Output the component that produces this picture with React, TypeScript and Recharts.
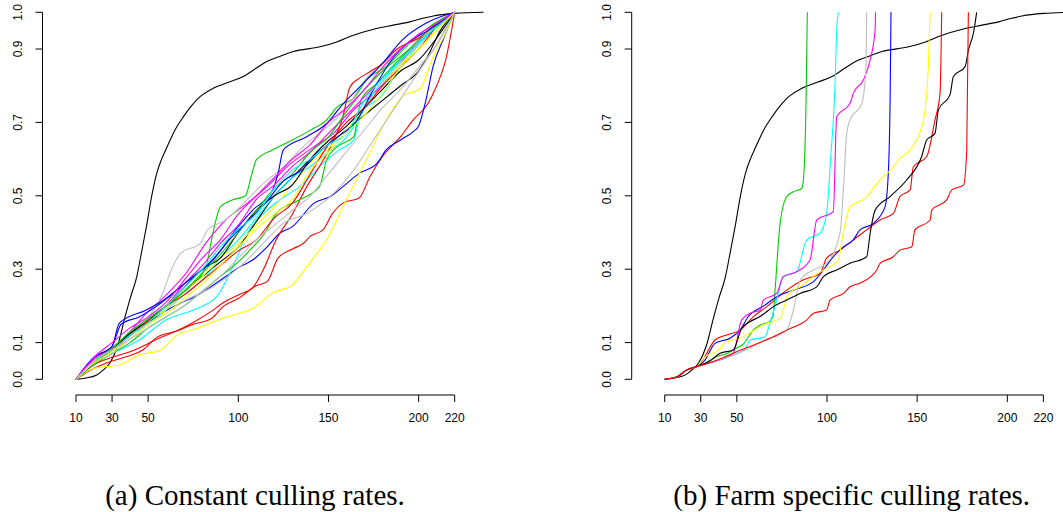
import { LineChart, Line, XAxis, YAxis, ReferenceLine } from "recharts"

type Pt = [number, number]

// R default palette
const RED = "#FF0000"
const GREEN = "#00CD00"
const BLUE = "#0000FF"
const CYAN = "#00FFFF"
const MAGENTA = "#FF00FF"
const YELLOW = "#FFFF00"
const GRAY = "#BEBEBE"
const BLACK = "#000000"

const xTicks = [10, 30, 50, 100, 150, 200, 220]
const yTicks = [0, 0.1, 0.3, 0.5, 0.7, 0.9, 1.0]

// reference curve, same in both panels
const reference: Pt[] = [
  [10, 0], [15, 0.003], [21.5, 0.012], [25, 0.025], [28.9, 0.045], [33, 0.09], [37.2, 0.17], [40, 0.22],
  [43.7, 0.28], [46.5, 0.35], [49.2, 0.42], [52, 0.5], [54.7, 0.56], [57.5, 0.6], [60.2, 0.63], [65, 0.68],
  [69.5, 0.715], [74, 0.745], [78.8, 0.77], [86.1, 0.793], [95, 0.81], [102.8, 0.825], [110, 0.848],
  [115.8, 0.866], [122, 0.878], [130.5, 0.893], [145.3, 0.906], [155, 0.92], [161.9, 0.934], [176.7, 0.956],
  [186, 0.965], [195.2, 0.974], [202, 0.983], [208.1, 0.99], [220, 0.997], [236, 1.0],
]

// (a) constant culling rates
const constRed1: Pt[] = [[10, 0], [20, 0.03], [30, 0.05], [40, 0.065], [47, 0.08], [55, 0.115], [65, 0.13], [75, 0.15], [85, 0.165], [92, 0.2], [100, 0.22], [110, 0.255], [116, 0.266], [122, 0.33], [130, 0.355], [136, 0.37], [140, 0.39], [147, 0.407], [152, 0.45], [158, 0.48], [167, 0.494], [173, 0.552], [180, 0.607], [190, 0.661], [197, 0.707], [205, 0.75], [210, 0.8], [215, 0.87], [220, 1]]
const constRed2: Pt[] = [[10, 0], [20, 0.04], [30, 0.06], [40, 0.075], [47, 0.09], [55, 0.11], [65, 0.13], [75, 0.155], [85, 0.185], [92, 0.21], [100, 0.23], [108, 0.25], [114, 0.3], [121, 0.38], [130, 0.45], [138, 0.525], [145, 0.58], [152, 0.642], [158, 0.716], [162, 0.797], [167, 0.82], [173, 0.838], [180, 0.861], [188, 0.9], [194, 0.916], [200, 0.93], [208, 0.96], [215, 0.985], [220, 1]]
const constRed3: Pt[] = [[10, 0], [20, 0.05], [30, 0.08], [40, 0.12], [50, 0.16], [60, 0.2], [70, 0.23], [80, 0.27], [90, 0.31], [100, 0.35], [110, 0.38], [120, 0.44], [130, 0.48], [140, 0.56], [150, 0.64], [160, 0.7], [170, 0.74], [180, 0.8], [190, 0.85], [200, 0.9], [210, 0.96], [220, 1]]
const constGreen1: Pt[] = [[10, 0], [20, 0.05], [30, 0.08], [42, 0.134], [57, 0.19], [71, 0.243], [82, 0.307], [86, 0.4], [90, 0.47], [97, 0.489], [104, 0.5], [107, 0.55], [110, 0.598], [119, 0.625], [130, 0.652], [140, 0.679], [149, 0.707], [155, 0.743], [164, 0.766], [171, 0.816], [182, 0.852], [193, 0.906], [206, 0.961], [220, 1]]
const constGreen2: Pt[] = [[10, 0], [20, 0.04], [30, 0.07], [40, 0.1], [50, 0.14], [60, 0.17], [70, 0.2], [80, 0.24], [90, 0.28], [100, 0.32], [108, 0.36], [115, 0.4], [121, 0.452], [134, 0.489], [145, 0.525], [149, 0.598], [155, 0.634], [164, 0.661], [168, 0.761], [177, 0.807], [185, 0.85], [195, 0.9], [205, 0.95], [220, 1]]
const constGreen3: Pt[] = [[10, 0], [20, 0.05], [30, 0.085], [40, 0.13], [50, 0.165], [60, 0.2], [70, 0.24], [80, 0.29], [90, 0.34], [100, 0.4], [110, 0.46], [120, 0.52], [130, 0.56], [140, 0.62], [150, 0.66], [160, 0.73], [170, 0.79], [180, 0.84], [190, 0.88], [200, 0.92], [210, 0.96], [220, 1]]
const constBlue1: Pt[] = [[10, 0], [20, 0.05], [30, 0.08], [40, 0.12], [51, 0.162], [64, 0.198], [79, 0.234], [93, 0.28], [101, 0.307], [108, 0.325], [116, 0.361], [123, 0.398], [130, 0.416], [142, 0.48], [151, 0.498], [158, 0.525], [167, 0.561], [177, 0.589], [182, 0.625], [190, 0.652], [197, 0.675], [200, 0.69], [204, 0.76], [208, 0.852], [214, 0.93], [220, 1]]
const constBlue2: Pt[] = [[10, 0], [20, 0.06], [30, 0.09], [34, 0.153], [49, 0.189], [60, 0.22], [70, 0.26], [82, 0.307], [90, 0.35], [97, 0.398], [108, 0.461], [119, 0.516], [122, 0.56], [125, 0.625], [138, 0.661], [149, 0.697], [158, 0.75], [166, 0.79], [172, 0.82], [180, 0.861], [191, 0.925], [204, 0.97], [220, 1]]
const constBlue3: Pt[] = [[10, 0], [20, 0.06], [30, 0.09], [35, 0.15], [45, 0.17], [55, 0.2], [65, 0.24], [75, 0.28], [85, 0.32], [95, 0.38], [105, 0.43], [115, 0.48], [125, 0.54], [135, 0.57], [145, 0.62], [155, 0.66], [165, 0.7], [175, 0.79], [185, 0.87], [195, 0.92], [205, 0.95], [220, 1]]
const constCyan1: Pt[] = [[10, 0], [20, 0.04], [30, 0.07], [45, 0.107], [60, 0.162], [75, 0.189], [88, 0.225], [97, 0.307], [105, 0.398], [114, 0.452], [123, 0.489], [134, 0.525], [145, 0.579], [156, 0.625], [164, 0.652], [168, 0.725], [179, 0.77], [190, 0.852], [201, 0.916], [210, 0.96], [220, 1]]
const constCyan2: Pt[] = [[10, 0], [20, 0.05], [30, 0.08], [40, 0.12], [50, 0.15], [60, 0.19], [70, 0.23], [80, 0.27], [90, 0.33], [100, 0.38], [110, 0.44], [120, 0.5], [130, 0.55], [140, 0.58], [150, 0.62], [160, 0.66], [168, 0.72], [175, 0.78], [185, 0.84], [195, 0.89], [205, 0.94], [220, 1]]
const constCyan3: Pt[] = [[10, 0], [20, 0.05], [30, 0.08], [40, 0.12], [50, 0.155], [60, 0.2], [70, 0.25], [80, 0.3], [90, 0.36], [100, 0.41], [110, 0.45], [120, 0.52], [130, 0.57], [140, 0.6], [150, 0.64], [160, 0.67], [170, 0.76], [180, 0.82], [190, 0.87], [200, 0.92], [210, 0.96], [220, 1]]
const constMagenta1: Pt[] = [[10, 0], [20, 0.055], [31, 0.089], [40, 0.13], [49, 0.18], [60, 0.23], [71, 0.289], [82, 0.371], [93, 0.434], [105, 0.48], [116, 0.525], [127, 0.579], [142, 0.634], [153, 0.671], [164, 0.734], [177, 0.788], [190, 0.861], [204, 0.943], [220, 1]]
const constMagenta2: Pt[] = [[10, 0], [20, 0.05], [30, 0.085], [40, 0.12], [50, 0.16], [60, 0.2], [70, 0.26], [80, 0.31], [90, 0.37], [100, 0.42], [110, 0.49], [120, 0.53], [130, 0.58], [140, 0.62], [150, 0.67], [160, 0.72], [170, 0.77], [180, 0.82], [190, 0.87], [200, 0.92], [210, 0.96], [220, 1]]
const constMagenta3: Pt[] = [[10, 0], [20, 0.06], [30, 0.1], [40, 0.14], [50, 0.17], [60, 0.21], [70, 0.27], [80, 0.33], [90, 0.38], [100, 0.45], [110, 0.5], [120, 0.55], [130, 0.6], [140, 0.64], [150, 0.7], [160, 0.74], [170, 0.79], [180, 0.85], [190, 0.9], [200, 0.94], [210, 0.97], [220, 1]]
const constYellow1: Pt[] = [[10, 0], [20, 0.03], [34, 0.039], [45, 0.066], [57, 0.08], [66, 0.12], [77, 0.139], [88, 0.16], [97, 0.175], [108, 0.193], [119, 0.235], [130, 0.257], [138, 0.307], [151, 0.398], [158, 0.47], [171, 0.598], [180, 0.688], [191, 0.77], [201, 0.793], [208, 0.879], [215, 0.943], [220, 1]]
const constYellow2: Pt[] = [[10, 0], [20, 0.05], [30, 0.08], [40, 0.12], [50, 0.16], [60, 0.19], [70, 0.24], [80, 0.28], [90, 0.33], [100, 0.37], [110, 0.42], [120, 0.47], [130, 0.53], [140, 0.59], [150, 0.63], [160, 0.68], [170, 0.74], [180, 0.8], [190, 0.86], [200, 0.9], [210, 0.95], [220, 1]]
const constYellow3: Pt[] = [[10, 0], [20, 0.045], [30, 0.075], [40, 0.11], [50, 0.15], [60, 0.18], [70, 0.22], [80, 0.26], [90, 0.31], [100, 0.36], [110, 0.41], [120, 0.45], [130, 0.49], [140, 0.57], [150, 0.62], [160, 0.67], [170, 0.72], [180, 0.78], [190, 0.85], [200, 0.9], [210, 0.95], [220, 1]]
const constGray1: Pt[] = [[10, 0], [20, 0.05], [30, 0.08], [40, 0.12], [49, 0.162], [58, 0.234], [63, 0.3], [68, 0.343], [79, 0.371], [83, 0.407], [93, 0.434], [101, 0.47], [112, 0.525], [125, 0.579], [138, 0.643], [150, 0.69], [160, 0.74], [171, 0.82], [180, 0.86], [190, 0.9], [200, 0.93], [210, 0.965], [220, 1]]
const constGray2: Pt[] = [[10, 0], [20, 0.045], [30, 0.07], [40, 0.11], [50, 0.15], [60, 0.18], [71, 0.216], [86, 0.252], [101, 0.307], [114, 0.371], [125, 0.425], [138, 0.452], [153, 0.507], [164, 0.57], [175, 0.652], [186, 0.734], [197, 0.816], [208, 0.897], [220, 1]]
const constGray3: Pt[] = [[10, 0], [20, 0.05], [30, 0.08], [40, 0.11], [50, 0.14], [60, 0.17], [70, 0.2], [80, 0.24], [90, 0.28], [100, 0.33], [110, 0.38], [120, 0.42], [130, 0.46], [140, 0.5], [150, 0.56], [160, 0.62], [170, 0.68], [180, 0.74], [190, 0.79], [200, 0.85], [210, 0.91], [220, 1]]
const constBlack1: Pt[] = [[10, 0], [20, 0.05], [30, 0.08], [40, 0.12], [50, 0.155], [60, 0.19], [70, 0.24], [80, 0.28], [90, 0.32], [100, 0.36], [110, 0.43], [120, 0.5], [130, 0.55], [140, 0.6], [150, 0.64], [160, 0.68], [170, 0.72], [180, 0.76], [190, 0.8], [200, 0.84], [205, 0.88], [212, 0.95], [220, 1]]
const constBlack2: Pt[] = [[10, 0], [20, 0.045], [30, 0.08], [40, 0.125], [50, 0.16], [60, 0.2], [70, 0.25], [80, 0.3], [90, 0.33], [100, 0.4], [110, 0.46], [120, 0.5], [130, 0.53], [140, 0.6], [150, 0.65], [160, 0.69], [170, 0.74], [180, 0.79], [190, 0.84], [200, 0.87], [210, 0.93], [220, 1]]

// (b) farm specific culling rates
const farmGreen: Pt[] = [[10, 0], [17, 0.007], [22, 0.025], [28, 0.035], [33, 0.045], [39, 0.062], [45, 0.071], [48, 0.08], [54, 0.098], [59, 0.134], [63, 0.148], [68, 0.157], [70, 0.17], [71.2, 0.243], [74, 0.425], [77.7, 0.498], [81.4, 0.511], [86, 0.52], [86.9, 0.543], [88.4, 0.761], [89.1, 1.0]]
const farmCyan: Pt[] = [[10, 0], [17, 0.007], [22, 0.025], [28, 0.035], [35, 0.045], [42, 0.055], [50, 0.07], [55, 0.085], [57.3, 0.107], [65.6, 0.116], [68.4, 0.153], [72.1, 0.216], [75.8, 0.28], [83.2, 0.293], [88.8, 0.38], [96.2, 0.398], [99.8, 0.452], [102, 0.6], [104.5, 0.807], [105.4, 0.952], [106.3, 1.0]]
const farmMagenta: Pt[] = [[10, 0], [17, 0.007], [22, 0.025], [28, 0.035], [35, 0.045], [42, 0.055], [48, 0.071], [52.7, 0.162], [57.3, 0.18], [62.9, 0.189], [64.7, 0.216], [72.1, 0.234], [75.8, 0.28], [83.2, 0.293], [90.6, 0.325], [94.3, 0.434], [103.5, 0.457], [105.4, 0.716], [112.8, 0.752], [114.6, 0.779], [120.2, 0.816], [123.9, 0.87], [126.7, 0.952], [126.9, 1.0]]
const farmGray: Pt[] = [[10, 0], [17, 0.007], [22, 0.025], [28, 0.035], [35, 0.045], [45, 0.06], [55, 0.08], [65, 0.105], [77.7, 0.134], [81.4, 0.189], [85.1, 0.27], [92.5, 0.298], [99.8, 0.316], [107.2, 0.398], [109.5, 0.55], [110.9, 0.67], [112.8, 0.707], [119.3, 0.752], [121.7, 0.852], [122, 1.0]]
const farmBlue: Pt[] = [[10, 0], [17, 0.007], [22, 0.025], [28, 0.035], [32, 0.05], [37.9, 0.098], [46.2, 0.112], [51.8, 0.134], [56.4, 0.171], [65, 0.2], [72.1, 0.225], [81.4, 0.243], [92.5, 0.266], [98, 0.298], [103.5, 0.334], [109.1, 0.361], [114.6, 0.38], [118.3, 0.407], [125.7, 0.425], [132.2, 0.47], [134, 0.561], [135, 0.761], [135.5, 1.0]]
const farmYellow: Pt[] = [[10, 0], [17, 0.007], [22, 0.025], [28, 0.035], [31.4, 0.057], [40, 0.08], [44.4, 0.103], [51.8, 0.112], [60, 0.135], [66.6, 0.153], [74, 0.166], [78.6, 0.234], [85.1, 0.252], [92.5, 0.28], [98, 0.298], [106.3, 0.325], [109, 0.4], [112.8, 0.47], [121.1, 0.493], [129.4, 0.543], [136.8, 0.579], [140, 0.6], [146.1, 0.625], [153.5, 0.707], [156.2, 0.852], [157.2, 1.0]]
const farmRed1: Pt[] = [[10, 0], [17, 0.007], [22, 0.025], [28, 0.035], [32, 0.06], [37.9, 0.107], [44.4, 0.121], [51.8, 0.134], [59.2, 0.171], [66.6, 0.198], [77.7, 0.243], [86.9, 0.271], [96.2, 0.289], [99.8, 0.33], [107.2, 0.352], [114.6, 0.38], [122, 0.407], [129.4, 0.434], [136.8, 0.452], [140.5, 0.498], [146.1, 0.516], [147.9, 0.579], [155.3, 0.607], [159.9, 0.707], [162.7, 0.779], [163.6, 1.0]]
const farmBlack: Pt[] = [[10, 0], [17, 0.007], [22, 0.025], [28, 0.035], [35, 0.05], [40.7, 0.071], [48, 0.08], [52.7, 0.139], [57.3, 0.157], [62.9, 0.171], [70.3, 0.198], [77.7, 0.216], [85.1, 0.234], [94.3, 0.252], [98, 0.28], [105.4, 0.298], [112.8, 0.316], [122, 0.334], [124, 0.4], [126.7, 0.461], [135, 0.498], [144.2, 0.543], [152.5, 0.607], [155.3, 0.652], [159.9, 0.67], [161.8, 0.734], [168.2, 0.775], [170.1, 0.825], [176.6, 0.852], [178.4, 0.897], [181.2, 0.943], [183, 1.0]]
const farmRed2: Pt[] = [[10, 0], [17, 0.007], [22, 0.025], [28, 0.035], [35, 0.045], [42, 0.058], [48, 0.071], [60, 0.095], [70.3, 0.116], [77.7, 0.134], [88.8, 0.162], [92.5, 0.18], [99.8, 0.189], [101.7, 0.216], [109.1, 0.234], [112.8, 0.252], [118.3, 0.262], [127.6, 0.298], [129.4, 0.316], [136.8, 0.334], [140.5, 0.352], [147, 0.361], [148.8, 0.407], [157.2, 0.434], [158.1, 0.461], [166.4, 0.489], [169.2, 0.516], [175.7, 0.529], [177.5, 0.625], [178.4, 1.0]]

type Series = { name: string; color: string; points: Pt[] }

const constantSeries: Series[] = [
  { name: "ref", color: BLACK, points: reference },
  { name: "r1", color: RED, points: constRed1 },
  { name: "g1", color: GREEN, points: constGreen1 },
  { name: "b1", color: BLUE, points: constBlue1 },
  { name: "c1", color: CYAN, points: constCyan1 },
  { name: "m1", color: MAGENTA, points: constMagenta1 },
  { name: "y1", color: YELLOW, points: constYellow1 },
  { name: "gr1", color: GRAY, points: constGray1 },
  { name: "k1", color: BLACK, points: constBlack1 },
  { name: "r2", color: RED, points: constRed2 },
  { name: "g2", color: GREEN, points: constGreen2 },
  { name: "b2", color: BLUE, points: constBlue2 },
  { name: "c2", color: CYAN, points: constCyan2 },
  { name: "m2", color: MAGENTA, points: constMagenta2 },
  { name: "y2", color: YELLOW, points: constYellow2 },
  { name: "gr2", color: GRAY, points: constGray2 },
  { name: "k2", color: BLACK, points: constBlack2 },
  { name: "r3", color: RED, points: constRed3 },
  { name: "g3", color: GREEN, points: constGreen3 },
  { name: "b3", color: BLUE, points: constBlue3 },
  { name: "c3", color: CYAN, points: constCyan3 },
  { name: "m3", color: MAGENTA, points: constMagenta3 },
  { name: "y3", color: YELLOW, points: constYellow3 },
  { name: "gr3", color: GRAY, points: constGray3 },
]

const farmSeries: Series[] = [
  { name: "ref", color: BLACK, points: reference },
  { name: "r1", color: RED, points: farmRed1 },
  { name: "g", color: GREEN, points: farmGreen },
  { name: "b", color: BLUE, points: farmBlue },
  { name: "c", color: CYAN, points: farmCyan },
  { name: "m", color: MAGENTA, points: farmMagenta },
  { name: "y", color: YELLOW, points: farmYellow },
  { name: "gr", color: GRAY, points: farmGray },
  { name: "k", color: BLACK, points: farmBlack },
  { name: "r2", color: RED, points: farmRed2 },
]

const PX_PER_DAY = 1.8033
const PX_PER_UNIT = 367
const Y_ZERO = 379.3
const PLOT_TOP = 5
const PLOT_BOTTOM = 395
const PLOT_WIDTH = 458
const X_AXIS_H = 35
const CHART_H = PLOT_BOTTOM + X_AXIS_H

const FONT = "'Liberation Sans', Arial, Helvetica, sans-serif"

function YTick(props: any) {
  const { x, y, payload } = props
  const cx = x - 15.3
  return (
    <text
      x={cx}
      y={y}
      transform={`rotate(-90 ${cx} ${y})`}
      textAnchor="middle"
      dominantBaseline="central"
      fontSize={12}
      fontFamily={FONT}
      fill="#000"
    >
      {Number(payload.value).toFixed(1)}
    </text>
  )
}

function Panel({ series, left, axisX, x10 }: { series: Series[]; left: number; axisX: number; x10: number }) {
  const xMin = 10 - (x10 - axisX) / PX_PER_DAY
  const xMax = xMin + PLOT_WIDTH / PX_PER_DAY
  const yMin = (Y_ZERO - PLOT_BOTTOM) / PX_PER_UNIT
  const yMax = (Y_ZERO - PLOT_TOP) / PX_PER_UNIT
  const width = axisX + PLOT_WIDTH

  return (
    <div style={{ position: "absolute", left, top: 0 }}>
      <LineChart width={width} height={CHART_H} margin={{ top: PLOT_TOP, right: 0, bottom: 0, left: 0 }}>
        <XAxis
          type="number"
          dataKey="x"
          domain={[xMin, xMax]}
          ticks={xTicks}
          axisLine={false}
          tickSize={7}
          tickMargin={11}
          tickLine={{ stroke: "#000" }}
          height={X_AXIS_H}
          tick={{ fontSize: 12, fontFamily: FONT, fill: "#000" }}
          interval={0}
        />
        <YAxis
          type="number"
          dataKey="y"
          domain={[yMin, yMax]}
          ticks={yTicks}
          axisLine={false}
          tickSize={7}
          tickMargin={2}
          tickLine={{ stroke: "#000" }}
          width={axisX}
          tick={<YTick />}
          interval={0}
        />
        <ReferenceLine
          segment={[{ x: 10, y: yMin }, { x: 220, y: yMin }]}
          stroke="#000"
          strokeWidth={1}
          ifOverflow="visible"
        />
        <ReferenceLine
          segment={[{ x: xMin, y: 0 }, { x: xMin, y: 1 }]}
          stroke="#000"
          strokeWidth={1}
          ifOverflow="visible"
        />
        {series.map((s) => (
          <Line
            key={s.name}
            data={s.points.map(([x, y]) => ({ x, y }))}
            dataKey="y"
            type="monotone"
            stroke={s.color}
            strokeWidth={1.1}
            dot={false}
            activeDot={false}
            isAnimationActive={false}
          />
        ))}
      </LineChart>
    </div>
  )
}

export default function App() {
  return (
    <div
      style={{
        position: "absolute",
        left: 0,
        top: 0,
        width: 1063,
        height: 512,
        overflow: "hidden",
        background: "#fff",
      }}
    >
      <Panel series={constantSeries} left={0} axisX={42.5} x10={76} />
      <Panel series={farmSeries} left={590} axisX={41.7} x10={74.7} />
      <svg width={1063} height={512} style={{ position: "absolute", left: 0, top: 0, pointerEvents: "none" }}>
        <text x={255} y={505} textAnchor="middle" fontSize={29} fontFamily="'Liberation Serif', 'Times New Roman', serif" fill="#000">
          (a) Constant culling rates.
        </text>
        <text x={851.7} y={505} textAnchor="middle" fontSize={29} fontFamily="'Liberation Serif', 'Times New Roman', serif" fill="#000">
          (b) Farm specific culling rates.
        </text>
      </svg>
    </div>
  )
}
